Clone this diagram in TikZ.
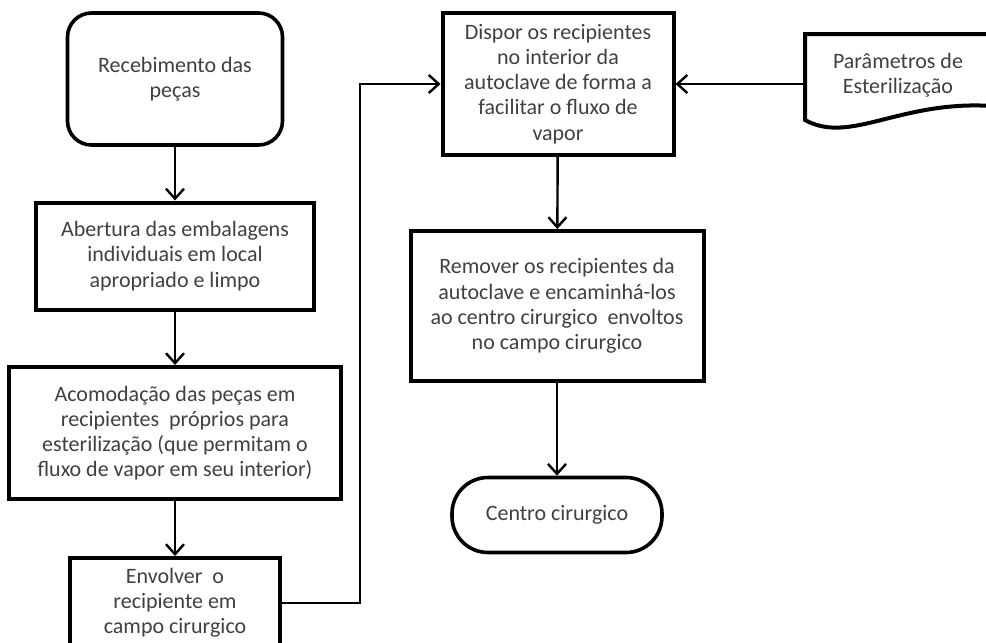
\documentclass[tikz,border=0pt]{standalone}
\usepackage{fontspec}
\setmainfont{Carlito}
\usetikzlibrary{arrows.meta}
\definecolor{txtgray}{HTML}{404040}
\begin{document}
\begin{tikzpicture}[x=0.5pt,y=-0.5pt,
    font=\fontsize{11}{12.6}\selectfont,
    box/.style={draw,line width=2pt,align=center,text=txtgray,inner sep=2pt},
    arr/.style={line width=1.2pt,-{Straight Barb[length=5pt,width=9pt]}},
    txt/.style={align=center,text=txtgray}]
    \useasboundingbox (0,0) rectangle (986,643);
    \clip (0,0) rectangle (986,643);
    % coluna da esquerda
    \node[box,line width=1.8pt,rounded corners=12pt,minimum width=107.5pt,minimum height=66pt] (rec) at (175,79) {Recebimento das\\peças};
    \node[box,minimum width=139pt,minimum height=53.5pt] (abe) at (175,256) {Abertura das embalagens\\individuais em local\\apropriado e limpo};
    \node[box,minimum width=166pt,minimum height=66pt] (aco) at (175,433) {Acomodação das peças em\\recipientes\ \ próprios para\\esterilização (que permitam o\\fluxo de vapor em seu interior)};
    \node[box,minimum width=105pt,minimum height=45pt] (env) at (175,603) {Envolver\ \ o\\recipiente em\\campo cirurgico};
    % coluna da direita
    \node[box,minimum width=115.5pt,minimum height=71pt] (dis) at (558,84) {Dispor os recipientes\\no interior da\\autoclave de forma a\\facilitar o fluxo de\\vapor};
    \node[box,minimum width=146.5pt,minimum height=75pt] (rem) at (557,306) {Remover os recipientes da\\autoclave e encaminhá-los\\ao centro cirurgico\ \ envoltos\\no campo cirurgico};
    \node[box,line width=1.8pt,rounded corners=18pt,minimum width=105pt,minimum height=37.5pt] (cen) at (557,515) {Centro cirurgico};
    % documento
    \draw[line width=2pt] (992,34) -- (805,34) -- (805,84) coordinate (parw) -- (805,120) .. controls (850,145) and (900,100) .. (992,106);
    \node[txt] (par) at (898,75) {Parâmetros de\\Esterilização};
    %
    \draw[arr] (rec) -- (abe);
    \draw[arr] (abe) -- (aco);
    \draw[arr] (aco) -- (env);
    \coordinate (bend) at (360,84);
    \draw[arr] (env.east) -| (bend) -- (dis.west);
    \draw[arr] (parw) -- (dis.east);
    \draw[arr] (dis) -- (rem);
    \draw[arr] (rem) -- (cen);
\end{tikzpicture}
\end{document}
